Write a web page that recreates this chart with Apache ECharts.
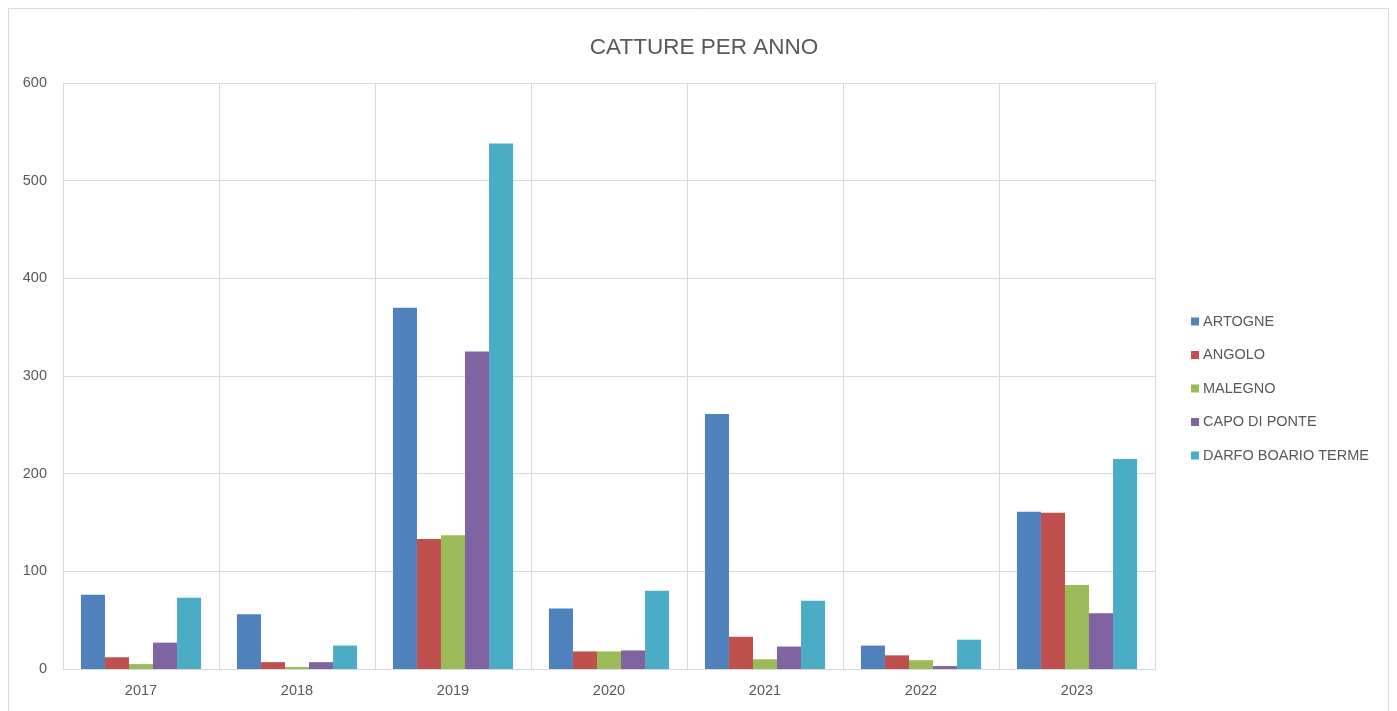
<!DOCTYPE html>
<html>
<head>
<meta charset="utf-8">
<script src="https://cdn.jsdelivr.net/npm/echarts@6/dist/echarts.min.js"></script>
<style>
  html, body { margin: 0; padding: 0; background: #ffffff; }
  #chart { width: 1397px; height: 711px; }
</style>
</head>
<body>
<div id="chart"></div>
<script>
// Catture annuali per comune
const years = ['2017', '2018', '2019', '2020', '2021', '2022', '2023'];
const artogne = [76, 56, 370, 62, 261, 24, 161];
const angolo = [12, 7, 133, 18, 33, 14, 160];
const malegno = [5, 2, 137, 18, 10, 9, 86];
const capoDiPonte = [27, 7, 325, 19, 23, 3, 57];
const darfoBoarioTerme = [73, 24, 538, 80, 70, 30, 215];
const seriesNames = ['ARTOGNE', 'ANGOLO', 'MALEGNO', 'CAPO DI PONTE', 'DARFO BOARIO TERME'];
const seriesColors = ['#4F81BD', '#C0504D', '#9BBB59', '#8064A2', '#4BACC6'];
const seriesValues = [artogne, angolo, malegno, capoDiPonte, darfoBoarioTerme];

const FONT = 'Liberation Sans, Arial, sans-serif';
const TEXT = '#595959';
const GRID_LINE = '#d9d9d9';

const chart = echarts.init(document.getElementById('chart'), null, { renderer: 'canvas' });

chart.setOption({
  backgroundColor: '#ffffff',
  animation: false,
  title: {
    text: 'CATTURE PER ANNO',
    left: 699,
    textAlign: 'center',
    top: 31,
    textStyle: { color: TEXT, fontSize: 22.5, fontWeight: 'normal', fontFamily: FONT }
  },
  graphic: [{
    type: 'rect',
    shape: { x: 8.5, y: 8.5, width: 1380, height: 720 },
    style: { fill: 'none', stroke: '#d9d9d9', lineWidth: 1 },
    silent: true
  }],
  legend: {
    orient: 'vertical',
    left: 1186,
    top: 309,
    itemWidth: 8,
    itemHeight: 8,
    itemGap: 18.5,
    icon: 'rect',
    textStyle: { color: TEXT, fontSize: 14.5, fontFamily: FONT, padding: [0, 0, 0, -1] },
    data: seriesNames
  },
  grid: { left: 63, right: 242, top: 83, bottom: 42, containLabel: false },
  xAxis: {
    type: 'category',
    data: years,
    axisLine: { show: true, lineStyle: { color: GRID_LINE } },
    axisTick: { show: false },
    splitLine: { show: true, lineStyle: { color: GRID_LINE } },
    axisLabel: { color: TEXT, fontSize: 14.5, fontFamily: FONT, margin: 14 }
  },
  yAxis: {
    type: 'value',
    min: 0,
    max: 600,
    interval: 100,
    axisLine: { show: false },
    axisTick: { show: false },
    splitLine: { show: true, lineStyle: { color: GRID_LINE } },
    axisLabel: { color: TEXT, fontSize: 14.5, fontFamily: FONT, margin: 16 }
  },
  series: seriesNames.map((name, i) => ({
    name: name,
    type: 'bar',
    data: seriesValues[i],
    barGap: '0%',
    barCategoryGap: '23%',
    itemStyle: { color: seriesColors[i] }
  }))
});
</script>
</body>
</html>
